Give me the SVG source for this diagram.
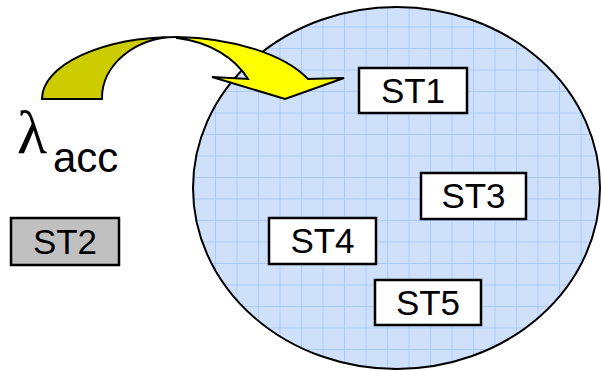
<svg xmlns="http://www.w3.org/2000/svg" width="601" height="371" viewBox="0 0 601 371">
  <style>
    .box { stroke: #000; stroke-width: 2.5; }
    .lbl { font-family: "Liberation Sans", Arial, sans-serif; font-size: 35px; fill: #000; text-anchor: middle; }
    .arrow { stroke: #000; stroke-width: 2; stroke-linejoin: miter; }
  </style>
  <defs>
    <!-- light blue graph-paper fill for the state set -->
    <pattern id="grid" patternUnits="userSpaceOnUse" x="0" y="5" width="21.5" height="21.5">
      <rect width="21.5" height="21.5" fill="#cfe1fa"/>
      <path d="M0,0 V21.5 M0,0 H21.5" stroke="#a2c4f5" stroke-width="1.5" fill="none"/>
    </pattern>
  </defs>

  <!-- state set -->
  <g id="set">
    <ellipse cx="396.5" cy="188" rx="203.5" ry="181" fill="url(#grid)" stroke="#000" stroke-width="2"/>
  </g>

  <!-- arrival arrow -->
  <g id="connectors">
    <path class="arrow" fill="#cccc00" d="M42,99 A135,62 0 0 1 177,37 A75,61 0 0 0 102,99 Z"/>
    <path class="arrow" fill="#ffff00" d="M177,37 C235,38 285,55 308,79 L344,78 L285,99 L212,77 L248,79 C235,58 210,42 177,38 Z"/>
  </g>

  <!-- arrival rate label -->
  <g id="rate">
    <text x="17" y="153" font-family="'Liberation Serif', 'DejaVu Serif', serif" font-size="62">λ</text>
    <text x="53" y="172" font-family="'Liberation Sans', Arial, sans-serif" font-size="42">acc</text>
  </g>

  <g id="st1">
    <rect class="box" x="359" y="68" width="108" height="45" fill="#fff"/>
    <text class="lbl" x="413" y="103">ST1</text>
  </g>
  <g id="st2">
    <rect class="box" x="11" y="218" width="108" height="47" fill="#c0c0c0"/>
    <text class="lbl" x="65" y="254">ST2</text>
  </g>
  <g id="st3">
    <rect class="box" x="421" y="173" width="105" height="46" fill="#fff"/>
    <text class="lbl" x="473.5" y="208">ST3</text>
  </g>
  <g id="st4">
    <rect class="box" x="269" y="218" width="107" height="46" fill="#fff"/>
    <text class="lbl" x="322.5" y="253">ST4</text>
  </g>
  <g id="st5">
    <rect class="box" x="375" y="280" width="106" height="45" fill="#fff"/>
    <text class="lbl" x="428" y="315">ST5</text>
  </g>
</svg>
